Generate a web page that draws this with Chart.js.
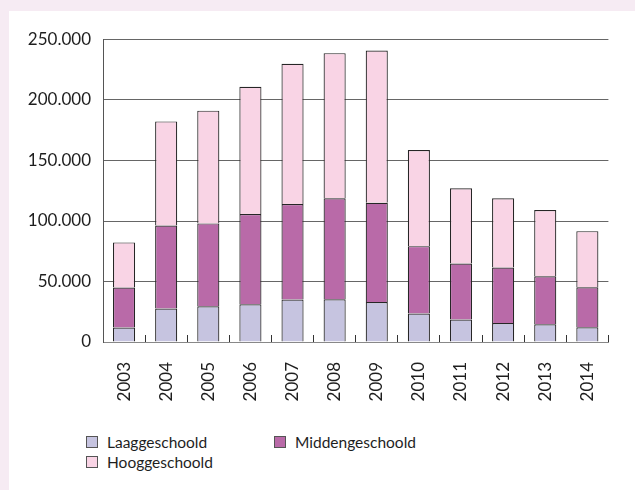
<!DOCTYPE html>
<html><head><meta charset="utf-8">
<script src="https://cdn.jsdelivr.net/npm/chart.js@4"></script>
<style>
html,body{margin:0;padding:0;background:#f6ebf3;width:635px;height:490px;overflow:hidden;font-family:Lato,sans-serif;}
#panel{position:absolute;left:9px;top:11px;width:626px;height:479px;background:#fff;}
#c{position:absolute;left:0;top:0;}
#legend{position:absolute;left:77px;top:421px;display:grid;grid-template-columns:188px 188px;grid-auto-rows:20px;font-size:15.5px;color:#1e1e1e;}
.item{display:flex;align-items:center;white-space:nowrap;}
.box{width:12px;height:12px;box-sizing:border-box;border:1px solid #555;margin-right:9px;flex:none;}
</style>
</head><body>
<div id="panel">
<canvas id="c" width="626" height="400"></canvas>
<div id="legend"></div>
</div>
<script>
const categories = ['2003','2004','2005','2006','2007','2008','2009','2010','2011','2012','2013','2014'];
const seriesNames = ['Laaggeschoold','Middengeschoold','Hooggeschoold'];
const laag   = [12000, 27600, 29500, 31200, 35100, 35300, 33100, 23500, 18500, 15700, 14700, 12200];
const midden = [33000, 68700, 68500, 74500, 78900, 83400, 81900, 55700, 46400, 45900, 39700, 33100];
const hoog   = [37300, 86000, 93200, 105300, 115900, 120000, 125900, 79400, 62100, 57100, 54600, 46300];
const yTicks = [0, 50000, 100000, 150000, 200000, 250000];
const colors = ['#c6c4e0','#b96aa8','#f9d4e5'];

function fmt(v){ return String(v).replace(/\B(?=(\d{3})+(?!\d))/g,'.'); }

const seriesData = [laag, midden, hoog];
const datasets = seriesData.map((d,i)=>({
  label: seriesNames[i], data: d, backgroundColor: colors[i],
  borderColor: '#262626', borderWidth: 1.2,
  categoryPercentage: 1, barPercentage: 0.525
}));

new Chart(document.getElementById('c'), {
  type: 'bar',
  data: { labels: categories, datasets },
  options: {
    responsive: false, animation: false, devicePixelRatio: 1,
    layout: { padding: { top: 28.5, right: 6, left: 0, bottom: 0 } },
    plugins: { legend: { display: false }, tooltip: { enabled: false } },
    scales: {
      x: {
        stacked: true,
        grid: { offset: true, drawOnChartArea: false, drawTicks: true, tickLength: -7, color: '#333', lineWidth: 1 },
        border: { display: true, color: '#888' },
        ticks: { minRotation: 90, maxRotation: 90, padding: 27, color: '#1e1e1e', font: { family: 'Lato', size: 17 } },
        afterFit(s){ s.height = 69; }
      },
      y: {
        stacked: true, min: yTicks[0], max: yTicks[yTicks.length-1],
        afterBuildTicks(s){ s.ticks = yTicks.map(v=>({value:v})); },
        ticks: { padding: 12, color: '#1e1e1e', font: { family: 'Lato', size: 17 }, callback: v => fmt(v) },
        grid: { color: '#666', drawTicks: false, lineWidth: 1 },
        border: { display: true, color: '#555' },
        afterFit(s){ s.width = 94; }
      }
    }
  }
});

const leg = document.getElementById('legend');
seriesNames.forEach((n,i)=>{
  const it = document.createElement('div'); it.className='item';
  const b = document.createElement('span'); b.className='box'; b.style.background=colors[i];
  const t = document.createElement('span'); t.textContent = n;
  it.appendChild(b); it.appendChild(t); leg.appendChild(it);
});
</script>
</body></html>
